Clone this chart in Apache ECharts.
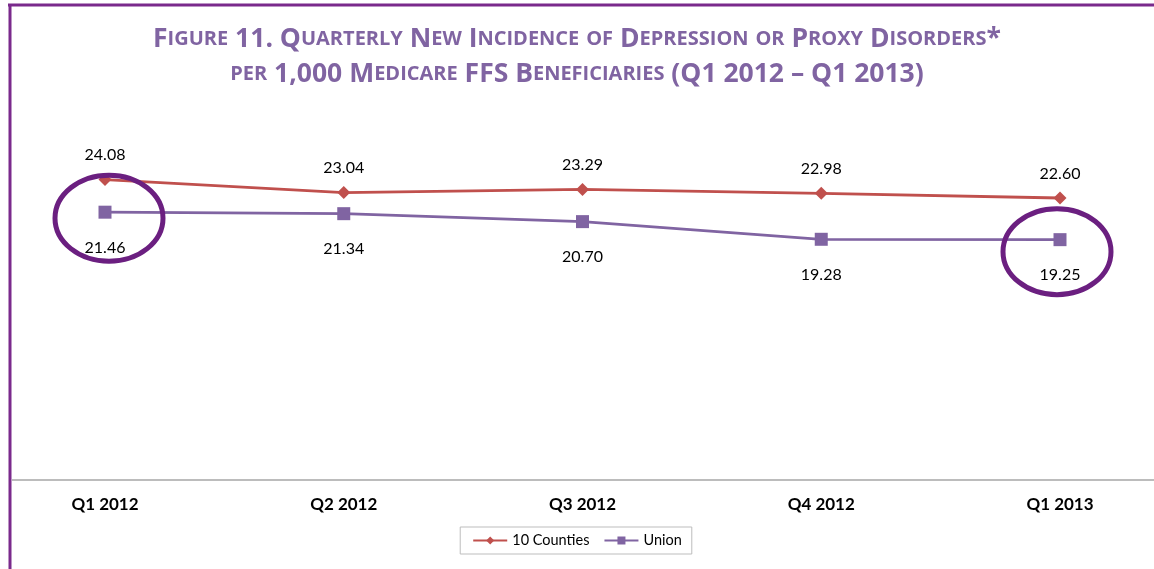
<!DOCTYPE html>
<html lang="en">
<head>
    <meta charset="UTF-8">
    <title>Figure 11</title>
    <script src="https://cdn.jsdelivr.net/npm/echarts@6/dist/echarts.min.js"></script>
    <style>
        html, body { margin: 0; padding: 0; background: #fff; }
        #main { width: 1154px; height: 569px; }
    </style>
</head>
<body>
<div id="main"></div>
<script type="text/javascript">
    // data
    var quarters = ['Q1 2012', 'Q2 2012', 'Q3 2012', 'Q4 2012', 'Q1 2013'];
    var tenCounties = [24.08, 23.04, 23.29, 22.98, 22.60];
    var union = [21.46, 21.34, 20.70, 19.28, 19.25];
    var circled = [0, 4];   // union points that are ringed

    var titleLines = [
        'Figure 11. Quarterly New Incidence of Depression or Proxy Disorders*',
        'per 1,000 Medicare FFS Beneficiaries (Q1 2012 \u2013 Q1 2013)'
    ];

    var purple = '#8064A2';
    var red = '#C0504D';
    var frame = '#7A2A8C';

    // fake small caps with rich text
    function smallCaps(str) {
        var out = '', cur = null, buf = '';
        for (var i = 0; i < str.length; i++) {
            var ch = str[i];
            var t = /[a-z]/.test(ch) ? 's' : 'b';
            if (t !== cur && buf) { out += '{' + cur + '|' + buf + '}'; buf = ''; }
            cur = t;
            buf += ch.toUpperCase();
        }
        if (buf) out += '{' + cur + '|' + buf + '}';
        return out;
    }

    var myChart = echarts.init(document.getElementById('main'));

    var font = 'Lato';
    var titleFont = 'Open Sans';
    myChart.setOption({
        animation: false,
        title: {
            text: titleLines.map(smallCaps).join('\n'),
            left: 'center',
            top: 17,
            textStyle: {
                rich: {
                    b: { fontFamily: titleFont, fontWeight: 'bold', fontSize: 26.5, color: purple, lineHeight: 35 },
                    s: { fontFamily: titleFont, fontWeight: 'bold', fontSize: 20, color: purple, lineHeight: 35 }
                }
            }
        },
        legend: {
            bottom: 15,
            left: 'center',
            itemWidth: 34,
            itemHeight: 10,
            itemGap: 14,
            padding: [6, 10, 6, 12],
            borderColor: '#bdbdbd',
            borderWidth: 1,
            textStyle: { fontFamily: font, fontSize: 14.5, color: '#000' },
            data: ['10 Counties', 'Union']
        },
        grid: { left: 105, right: 94, top: 106, bottom: 90 },
        xAxis: {
            type: 'category',
            data: quarters,
            boundaryGap: false,
            axisLine: { show: false },
            axisTick: { show: false },
            axisLabel: { fontFamily: font, fontWeight: 'bold', fontSize: 17, color: '#000', margin: 17 }
        },
        yAxis: {
            type: 'value',
            min: 0,
            max: 30,
            show: false,
            splitLine: { show: false }
        },
        series: [{
            name: '10 Counties',
            type: 'line',
            data: tenCounties,
            symbol: 'diamond',
            symbolSize: 13,
            color: red,
            lineStyle: { width: 2.8, color: red },
            label: {
                show: true, position: 'top', distance: 10,
                fontFamily: font, fontSize: 16, color: '#000',
                formatter: function (p) { return p.value.toFixed(2); }
            }
        }, {
            name: 'Union',
            type: 'line',
            data: union,
            symbol: 'rect',
            symbolSize: 13,
            color: purple,
            lineStyle: { width: 2.8, color: purple },
            label: {
                show: true, position: 'bottom', distance: 21,
                fontFamily: font, fontSize: 16, color: '#000',
                formatter: function (p) { return p.value.toFixed(2); }
            }
        }]
    });

    // frame lines, baseline and the rings around the circled points
    var base = myChart.convertToPixel({ gridIndex: 0 }, [0, 0]);
    var shapes = [
        { type: 'line', shape: { x1: 8, y1: 5, x2: 1154, y2: 5 }, style: { stroke: frame, lineWidth: 3 } },
        { type: 'line', shape: { x1: 10, y1: 4, x2: 10, y2: 569 }, style: { stroke: frame, lineWidth: 3 } },
        { type: 'line', shape: { x1: 12, y1: base[1] + 1, x2: 1154, y2: base[1] + 1 }, style: { stroke: '#a6a6a6', lineWidth: 1.5 } }
    ];
    var offs = [[4, 6], [-3, 12]];
    circled.forEach(function (idx, k) {
        var p = myChart.convertToPixel({ seriesIndex: 1 }, [idx, union[idx]]);
        shapes.push({
            type: 'ellipse',
            shape: { cx: p[0] + offs[k][0], cy: p[1] + offs[k][1], rx: 54, ry: 43 },
            style: { fill: null, stroke: '#6B1F80', lineWidth: 5 },
            z: 10
        });
    });
    myChart.setOption({ graphic: shapes });
</script>
</body>
</html>
